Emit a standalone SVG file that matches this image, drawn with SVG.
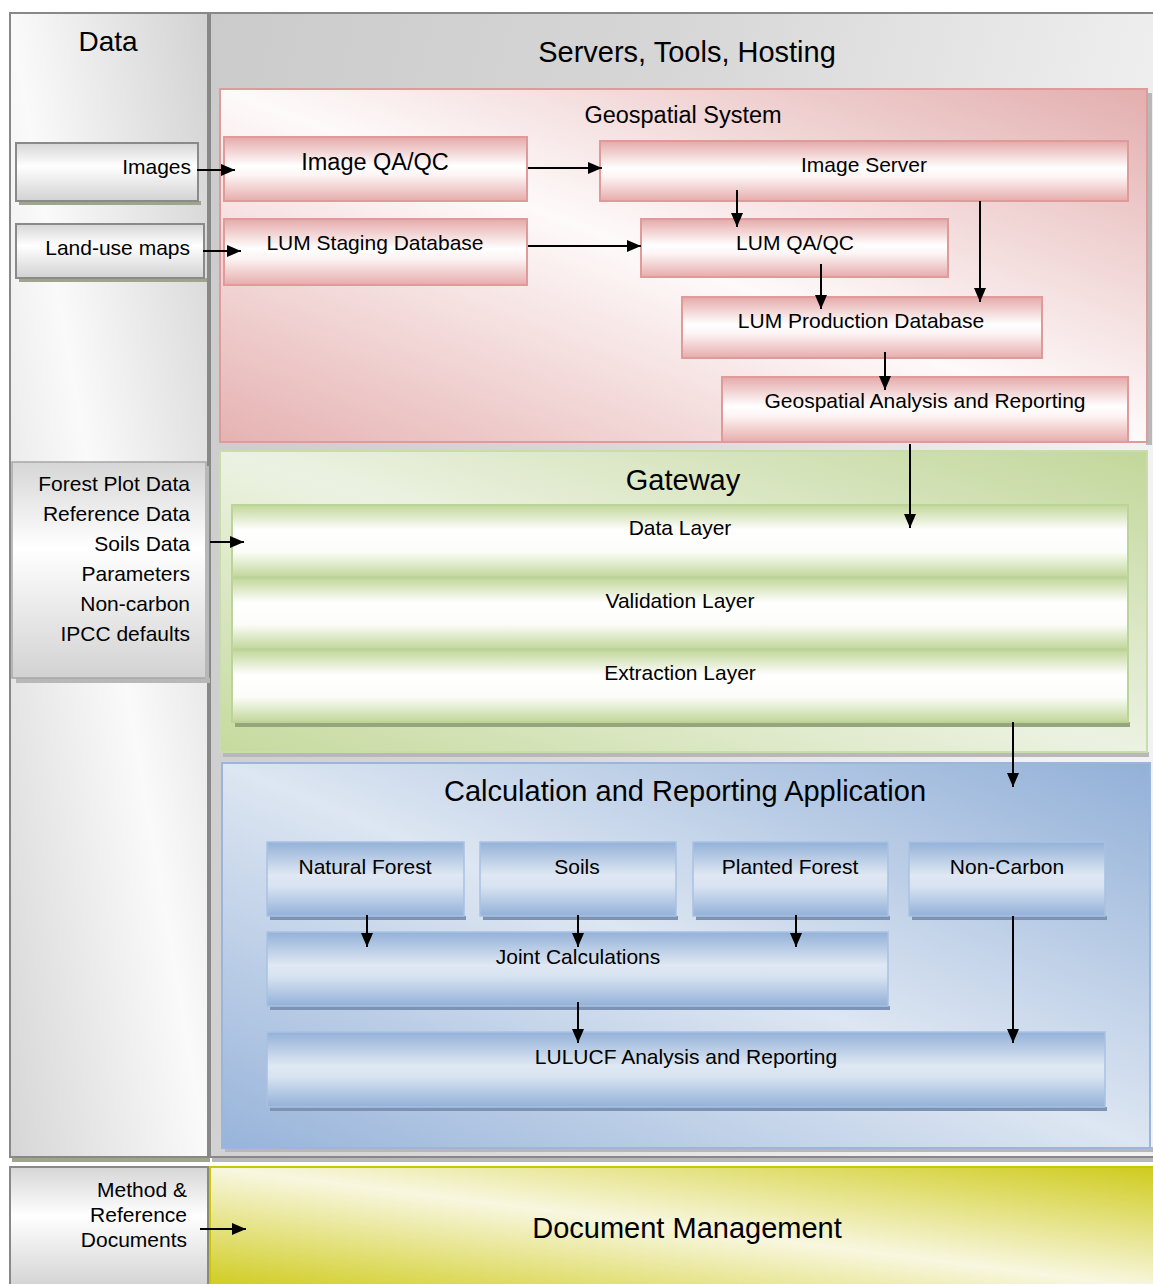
<svg xmlns="http://www.w3.org/2000/svg" width="1153" height="1284" viewBox="0 0 1153 1284">
<defs>
<linearGradient id="gData" x1="0" y1="1" x2="1" y2="0"><stop offset="0" stop-color="#d6d6d6"/><stop offset="0.5" stop-color="#fafafa"/><stop offset="1" stop-color="#d2d2d2"/></linearGradient>
<linearGradient id="gServers" x1="0" y1="0" x2="1" y2="0.3"><stop offset="0" stop-color="#cbcbcb"/><stop offset="0.45" stop-color="#d6d6d6"/><stop offset="1" stop-color="#f2f2f2"/></linearGradient>
<linearGradient id="gGeoC" x1="0" y1="1" x2="1" y2="0"><stop offset="0" stop-color="#e6b2b2"/><stop offset="0.5" stop-color="#fefafa"/><stop offset="1" stop-color="#e3aeae"/></linearGradient>
<linearGradient id="gGateC" x1="0" y1="1" x2="1" y2="0"><stop offset="0" stop-color="#c6da9e"/><stop offset="0.5" stop-color="#ecf2e2"/><stop offset="1" stop-color="#c2d79a"/></linearGradient>
<linearGradient id="gCalcC" x1="0" y1="1" x2="1" y2="0"><stop offset="0" stop-color="#98b4da"/><stop offset="0.5" stop-color="#dde6f2"/><stop offset="1" stop-color="#92b0d8"/></linearGradient>
<linearGradient id="gDocC" x1="0" y1="1" x2="1" y2="0"><stop offset="0" stop-color="#cfcb1c"/><stop offset="0.5" stop-color="#f8f7e0"/><stop offset="1" stop-color="#cfcb1c"/></linearGradient>
<linearGradient id="gPink" x1="0" y1="0" x2="0" y2="1"><stop offset="0" stop-color="#e6a9a9"/><stop offset="0.45" stop-color="#ffffff"/><stop offset="0.6" stop-color="#fdf4f4"/><stop offset="1" stop-color="#e6acac"/></linearGradient>
<linearGradient id="gGreen" x1="0" y1="0" x2="0" y2="1"><stop offset="0" stop-color="#c2d79a"/><stop offset="0.35" stop-color="#ffffff"/><stop offset="0.65" stop-color="#fcfdf9"/><stop offset="1" stop-color="#c2d79a"/></linearGradient>
<linearGradient id="gBlue" x1="0" y1="0" x2="0" y2="1"><stop offset="0" stop-color="#93b1d8"/><stop offset="0.45" stop-color="#dfe8f3"/><stop offset="0.6" stop-color="#d8e3f1"/><stop offset="1" stop-color="#93b1d8"/></linearGradient>
<linearGradient id="gGray" x1="0" y1="0" x2="0" y2="1"><stop offset="0" stop-color="#d6d6d6"/><stop offset="0.4" stop-color="#ffffff"/><stop offset="1" stop-color="#d2d2d2"/></linearGradient>
<marker id="ah" viewBox="0 0 14 12" refX="14" refY="6" markerWidth="14" markerHeight="12" markerUnits="userSpaceOnUse" orient="auto"><path d="M0,0 L14,6 L0,12 z" fill="#000"/></marker>
</defs>
<style>
text{font-family:"Liberation Sans",Arial,sans-serif;fill:#000}
.c{text-anchor:middle}
.r{text-anchor:end}
.t29{font-size:29px}
.t24{font-size:23.5px}
.t21{font-size:21px}
.frame{stroke:#888;stroke-width:2}
.pk{fill:url(#gPink);stroke:#df9a9a;stroke-width:2}
.gr{fill:url(#gGreen);stroke:#bcd49a;stroke-width:2}
.bl{fill:url(#gBlue);stroke:#a9c1e2;stroke-width:1.5}
.gy{fill:url(#gGray);stroke:#8a8a8a;stroke-width:2}
.shG{fill:#9ea58c}
.shB{fill:#7d93b4}
.shGr{fill:#95a57c}
.shN{fill:#b8b8b8}
.conn line{stroke:#000;stroke-width:2;marker-end:url(#ah)}
</style>

<g id="data-column">
<rect x="12" y="1157" width="198" height="5" class="shG"/>
<rect x="10" y="13" width="198" height="1144" fill="url(#gData)" class="frame"/>
<text x="108" y="51" class="c" style="font-size:28px">Data</text>
</g>

<g id="servers-panel">
<rect x="212" y="1157" width="941" height="5" class="shN"/>
<rect x="210" y="13" width="945" height="1144" fill="url(#gServers)" class="frame"/>
<text x="687" y="62" class="c t29">Servers, Tools, Hosting</text>
</g>

<g id="images">
<rect x="19" y="201" width="182" height="4" class="shG"/>
<rect x="16" y="143" width="182" height="58" class="gy"/>
<text x="191" y="174" class="r t21">Images</text>
</g>
<g id="land-use-maps">
<rect x="19" y="278" width="188" height="4" class="shG"/>
<rect x="16" y="224" width="188" height="54" class="gy"/>
<text x="190" y="255" class="r t21">Land-use maps</text>
</g>
<g id="forest-plot-data">
<rect x="16" y="678" width="194" height="5" class="shN"/>
<rect x="12" y="462" width="194" height="216" fill="url(#gGray)" stroke="#a8a8a8" stroke-width="1.5"/>
<rect x="205" y="466" width="4" height="214" class="shN"/>
<text x="190" y="491" class="r t21">Forest Plot Data</text>
<text x="190" y="521" class="r t21">Reference Data</text>
<text x="190" y="551" class="r t21">Soils Data</text>
<text x="190" y="581" class="r t21">Parameters</text>
<text x="190" y="611" class="r t21">Non-carbon</text>
<text x="190" y="641" class="r t21">IPCC defaults</text>
</g>

<g id="geospatial-system">
<rect x="1146" y="93" width="6" height="352" class="shN"/>
<rect x="220" y="89" width="927" height="353" fill="url(#gGeoC)" stroke="#df9a9a" stroke-width="2"/>
<text x="683" y="123" class="c" style="font-size:23.5px">Geospatial System</text>
</g>
<g id="image-qaqc">
<rect x="224" y="137" width="303" height="64" class="pk"/>
<text x="375" y="170" class="c t24">Image QA/QC</text>
</g>
<g id="image-server">
<rect x="600" y="141" width="528" height="60" class="pk"/>
<text x="864" y="172" class="c t21">Image Server</text>
</g>
<g id="lum-staging-database">
<rect x="224" y="219" width="303" height="66" class="pk"/>
<text x="375" y="250" class="c t21">LUM Staging Database</text>
</g>
<g id="lum-qaqc">
<rect x="641" y="219" width="307" height="58" class="pk"/>
<text x="795" y="250" class="c t21">LUM QA/QC</text>
</g>
<g id="lum-production-database">
<rect x="682" y="297" width="360" height="61" class="pk"/>
<text x="861" y="328" class="c t21">LUM Production Database</text>
</g>
<g id="geospatial-analysis-reporting">
<rect x="722" y="377" width="406" height="65" class="pk"/>
<text x="925" y="408" class="c t21">Geospatial Analysis and Reporting</text>
</g>

<g id="gateway">
<rect x="223" y="752" width="926" height="5" class="shN"/>
<rect x="220" y="451" width="927" height="301" fill="url(#gGateC)" stroke="#c8dcac" stroke-width="2"/>
<text x="683" y="490" class="c t29">Gateway</text>
</g>
<g id="data-layer">
<rect x="232" y="505" width="896" height="72" class="gr"/>
<text x="680" y="535" class="c t21">Data Layer</text>
</g>
<g id="validation-layer">
<rect x="232" y="578" width="896" height="71" class="gr"/>
<text x="680" y="608" class="c t21">Validation Layer</text>
</g>
<g id="extraction-layer">
<rect x="235" y="722" width="895" height="5" class="shGr"/>
<rect x="232" y="650" width="896" height="72" class="gr"/>
<text x="680" y="680" class="c t21">Extraction Layer</text>
</g>

<g id="calculation-reporting-application">
<rect x="225" y="1147" width="928" height="5" class="shN"/>
<rect x="222" y="763" width="928" height="385" fill="url(#gCalcC)" stroke="#9ab6dc" stroke-width="2"/>
<text x="685" y="801" class="c t29">Calculation and Reporting Application</text>
</g>
<g id="natural-forest">
<rect x="270" y="916" width="196" height="4" class="shB"/>
<rect x="267" y="842" width="197" height="74" class="bl"/>
<text x="365" y="874" class="c t21">Natural Forest</text>
</g>
<g id="soils">
<rect x="483" y="916" width="195" height="4" class="shB"/>
<rect x="480" y="842" width="196" height="74" class="bl"/>
<text x="577" y="874" class="c t21">Soils</text>
</g>
<g id="planted-forest">
<rect x="696" y="916" width="194" height="4" class="shB"/>
<rect x="693" y="842" width="195" height="74" class="bl"/>
<text x="790" y="874" class="c t21">Planted Forest</text>
</g>
<g id="non-carbon">
<rect x="912" y="916" width="195" height="4" class="shB"/>
<rect x="909" y="842" width="196" height="74" class="bl"/>
<text x="1007" y="874" class="c t21">Non-Carbon</text>
</g>
<g id="joint-calculations">
<rect x="270" y="1006" width="620" height="4" class="shB"/>
<rect x="267" y="932" width="621" height="74" class="bl"/>
<text x="578" y="964" class="c t21">Joint Calculations</text>
</g>
<g id="lulucf-analysis-reporting">
<rect x="270" y="1107" width="837" height="4" class="shB"/>
<rect x="267" y="1032" width="838" height="75" class="bl"/>
<text x="686" y="1064" class="c t21">LULUCF Analysis and Reporting</text>
</g>

<g id="method-reference-documents">
<rect x="10" y="1167" width="198" height="122" fill="url(#gGray)" class="frame"/>
<text x="187" y="1197" class="r t21">Method &amp;</text>
<text x="187" y="1222" class="r t21">Reference</text>
<text x="187" y="1247" class="r t21">Documents</text>
</g>
<g id="document-management">
<rect x="210" y="1167" width="947" height="122" fill="url(#gDocC)" stroke="#c9c800" stroke-width="2"/>
<text x="687" y="1238" class="c t29">Document Management</text>
</g>

<g id="connectors" class="conn">
<line x1="197" y1="170" x2="235" y2="170"/>
<line x1="203" y1="251" x2="241" y2="251"/>
<line x1="528" y1="168" x2="602" y2="168"/>
<line x1="528" y1="246" x2="641" y2="246"/>
<line x1="737" y1="190" x2="737" y2="227"/>
<line x1="980" y1="201" x2="980" y2="302"/>
<line x1="821" y1="264" x2="821" y2="309"/>
<line x1="885" y1="352" x2="885" y2="390"/>
<line x1="910" y1="444" x2="910" y2="528"/>
<line x1="210" y1="542" x2="244" y2="542"/>
<line x1="1013" y1="722" x2="1013" y2="787"/>
<line x1="367" y1="915" x2="367" y2="947"/>
<line x1="578" y1="915" x2="578" y2="947"/>
<line x1="796" y1="915" x2="796" y2="947"/>
<line x1="578" y1="1002" x2="578" y2="1043"/>
<line x1="1013" y1="916" x2="1013" y2="1043"/>
<line x1="200" y1="1229" x2="246" y2="1229"/>
</g>
</svg>
